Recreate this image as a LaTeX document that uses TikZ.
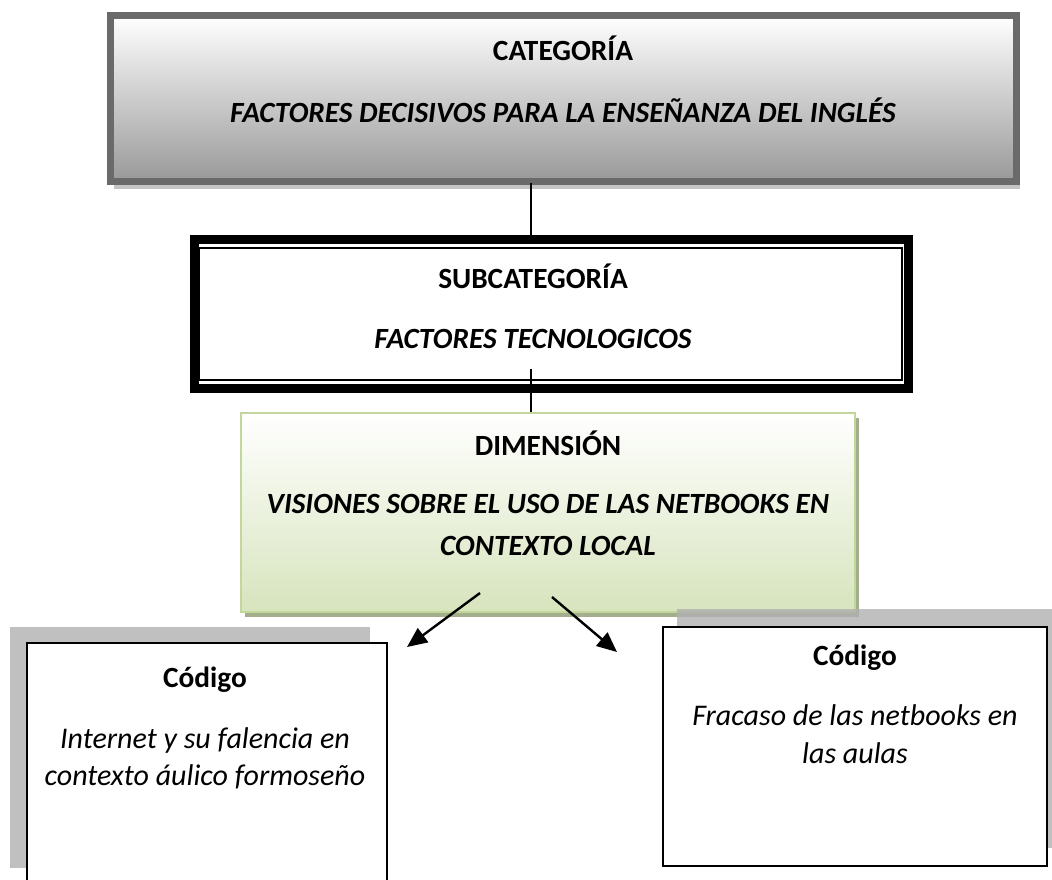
\documentclass[tikz,border=0pt]{standalone}
\usepackage{fontspec}
\setmainfont{Carlito}
\usetikzlibrary{arrows.meta,shadows}

\definecolor{catline}{HTML}{6A6A6A}
\definecolor{catshade}{HTML}{C4C4C4}
\definecolor{dimline}{HTML}{C3D69B}
\definecolor{dimfill}{HTML}{D7E4BD}
\definecolor{dimshade}{HTML}{A3AE8C}
\definecolor{codeshade}{HTML}{B0B0B0}

\begin{document}
\begin{tikzpicture}[x=0.75pt, y=-0.75pt,
    txtb/.style={anchor=base, inner sep=0, font=\fontsize{22}{26}\selectfont\bfseries},
    txtbi/.style={anchor=base, inner sep=0, font=\fontsize{22}{26}\selectfont\bfseries\itshape},
    txti/.style={anchor=base, inner sep=0, font=\fontsize{22.5}{26}\selectfont\itshape},
    codebox/.style={draw, line width=1.1pt, fill=white, inner sep=0}]
            \useasboundingbox (0,0) rectangle (1052,879);

            \node[draw=catline, line width=5.25pt, top color=white, bottom color=black!40,
                  minimum width=679.5pt, minimum height=124.5pt, inner sep=0,
                  drop shadow={shadow xshift=2.25pt, shadow yshift=-5.25pt, fill=catshade, opacity=1}]
                  (cat) at (563.5,98.5) {};
            \node[txtb] (catT) at (563,60) {CATEGORÍA};
            \node[txtbi] (catL) at (563,122) {FACTORES DECISIVOS PARA LA ENSEÑANZA DEL INGLÉS};

            \node[draw, line width=6.75pt, fill=white, minimum width=535.5pt, minimum height=111.75pt, inner sep=0]
                  (sub) at (551.5,314) {};
            \node[draw, line width=1.1pt, minimum width=527.25pt, minimum height=99pt, inner sep=0]
                  (subin) at (550.5,314) {};
            \node[txtb] (subT) at (533,288) {SUBCATEGORÍA};
            \node[txtbi] (subL) at (533,348) {FACTORES TECNOLOGICOS};

            \node[draw=dimline, line width=1.5pt, top color=white, bottom color=dimfill,
                  minimum width=460.5pt, minimum height=149.25pt, inner sep=0,
                  drop shadow={shadow xshift=3pt, shadow yshift=-3.75pt, fill=dimshade, opacity=1}]
                  (dim) at (548,512.5) {};
            \node[txtb] (dimT) at (548,455) {DIMENSIÓN};
            \node[txtbi] (dimL1) at (548,513) {VISIONES SOBRE EL USO DE LAS NETBOOKS EN};
            \node[txtbi] (dimL2) at (548,555) {CONTEXTO LOCAL};

            %codes
            \node[codebox, minimum width=270pt, minimum height=180.75pt,
                  drop shadow={shadow xshift=-12.75pt, shadow yshift=12pt, fill=codeshade, opacity=0.8}]
                  (codeA) at (207,763.5) {};
            \node[txtb] (codeAT) at (205,687) {Código};
            \node[txti] (codeA1) at (205,748) {Internet y su falencia en};
            \node[txti] (codeA2) at (205,785) {contexto áulico formoseño};

            \node[codebox, minimum width=288pt, minimum height=179.25pt,
                  drop shadow={shadow xshift=10.5pt, shadow yshift=13.5pt, fill=codeshade, opacity=0.8}]
                  (codeB) at (855,746.5) {};
            \node[txtb] (codeBT) at (855,665) {Código};
            \node[txti] (codeB1) at (855,725) {Fracaso de las netbooks en};
            \node[txti] (codeB2) at (855,763) {las aulas};

            %links
            \coordinate (stem) at (531,183);
            \coordinate (stemB) at (531,369);
            \draw[line width=1.5pt] (stem) -- (stem |- sub.north);
            \draw[line width=1.5pt] (stemB) -- (stemB |- dim.north);

            \coordinate (dimA) at (480,593);
            \coordinate (dimB) at (552,597);
            \coordinate (tipA) at (407,647);
            \coordinate (tipB) at (617,652);
            \draw[line width=1.8pt, -{Triangle[length=15pt, width=13pt]}] (dimA) -- (tipA);
            \draw[line width=1.8pt, -{Triangle[length=15pt, width=13pt]}] (dimB) -- (tipB);
\end{tikzpicture}
\end{document}
